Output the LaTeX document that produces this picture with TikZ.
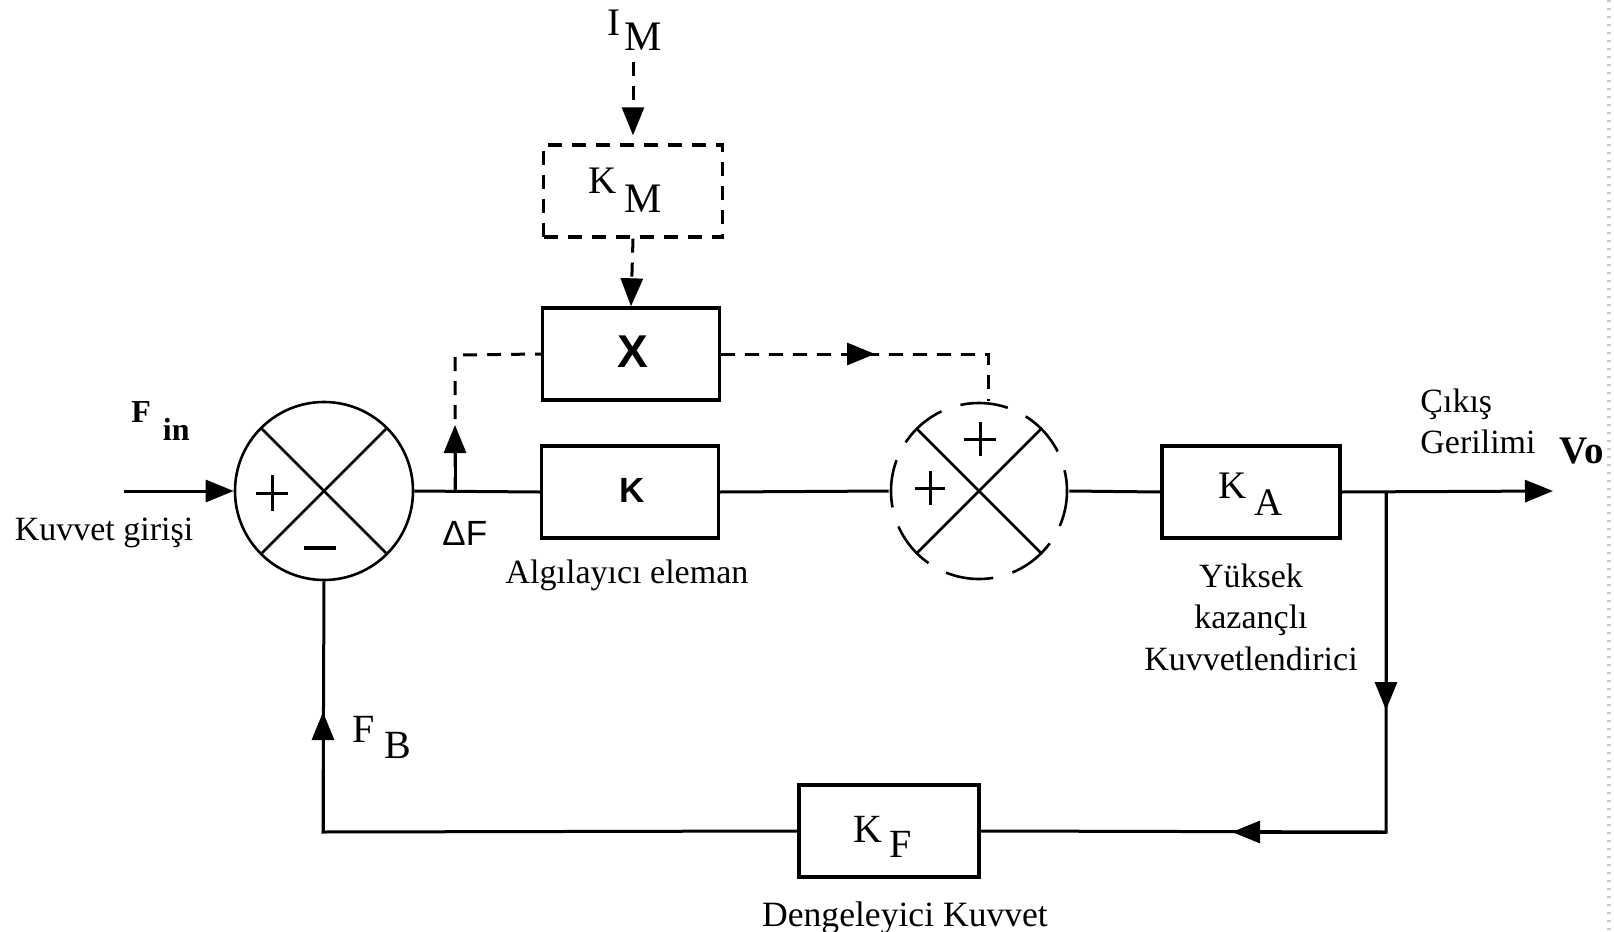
\documentclass[tikz,border=0pt]{standalone}
\usepackage{fontspec}
\setmainfont{Liberation Serif}
\setsansfont{Liberation Sans}
\usetikzlibrary{arrows.meta,calc}
\tikzset{
  blk/.style={draw,line width=1.7pt,minimum width=88.5pt,minimum height=46pt,inner sep=0pt},
  dblk/.style={blk,dash pattern=on 7pt off 5pt},
  sumj/.style={draw,circle,line width=1.3pt,minimum size=89pt,inner sep=0pt},
  wire/.style={line width=1.5pt},
  dwire/.style={line width=1.5pt,dash pattern=on 7pt off 5pt},
  tip/.style={-{Triangle[length=14pt,width=11pt]}},
  txt/.style={inner sep=0pt,font=\fontsize{17pt}{20pt}\selectfont},
  lbl/.style={inner sep=0pt,anchor=base west},
  pm/.style={line width=1.5pt},
}
\newcommand{\subl}[4]{#1\kern#3\raisebox{-#4}{#2}}
\begin{document}
\begin{tikzpicture}[x=0.5pt,y=-0.5pt]
\useasboundingbox (0,0) rectangle (1614,932);
% scrollbar artifact at right edge
\draw[gray!40,line width=2pt,dash pattern=on 1pt off 3pt] (1609,0) -- (1609,932);

% summing junctions
\node[sumj] (j1) at (324,491) {};
\draw[line width=1.3pt] ($(j1.center)+(-62,-62)$) -- ($(j1.center)+(62,62)$)
                        ($(j1.center)+(-62,62)$) -- ($(j1.center)+(62,-62)$);
\coordinate (p1) at (272,493);
\draw[pm] (p1) +(-16,0) -- +(16,0) (p1) +(0,-18) -- +(0,18);
\coordinate (m1) at (320,548);
\draw[line width=2pt] (m1) +(-16,0) -- +(16,0);

\node[sumj,draw=none] (j2) at (979,491) {};
\draw[line width=1.3pt,dash pattern=on 24pt off 10pt,dash phase=6pt] (j2.center) circle[radius=88];
\draw[line width=1.3pt] ($(j2.center)+(-62,-62)$) -- ($(j2.center)+(62,62)$)
                        ($(j2.center)+(-62,62)$) -- ($(j2.center)+(62,-62)$);
\coordinate (p2) at (980,439);
\draw[pm] (p2) +(-16,0) -- +(16,0) (p2) +(0,-17) -- +(0,17);
\coordinate (p3) at (930,488);
\draw[pm] (p3) +(-15,0) -- +(15,0) (p3) +(0,-17) -- +(0,17);

% blocks
\node[blk] (K) at (630,492) {};
\node[font=\sffamily\bfseries\fontsize{17.5pt}{20pt}\selectfont,inner sep=0pt] (Kt) at (632,490) {K};
\node[blk] (X) at (631,354) {};
\node[font=\sffamily\bfseries\fontsize{23pt}{24pt}\selectfont,inner sep=0pt] (Xt) at (633,352) {X};
\node[dblk,minimum width=89.5pt] (KM) at (633,191) {};
\node[lbl,font=\fontsize{19.5pt}{20pt}\selectfont] (KMt) at (588,193) {\subl{K}{\fontsize{21pt}{20pt}\selectfont M}{4pt}{9.5pt}};
\node[blk,minimum width=89pt] (KA) at (1251,492) {};
\node[lbl,font=\fontsize{19.5pt}{20pt}\selectfont] (KAt) at (1218,498) {\subl{K}{A}{4pt}{8.5pt}};
\node[blk,minimum width=90pt] (KF) at (889,831) {};
\node[lbl,font=\fontsize{20pt}{20pt}\selectfont] (KFt) at (853,842) {\subl{K}{F}{3.5pt}{7.5pt}};

% labels
\node[lbl,font=\fontsize{19.5pt}{20pt}\selectfont] (IM) at (607,35) {\subl{I}{\fontsize{21pt}{20pt}\selectfont M}{2pt}{7.5pt}};
\node[lbl,font=\bfseries\fontsize{16pt}{16pt}\selectfont] (Fin) at (131,422) {\subl{F}{in}{6pt}{9pt}};
\node[lbl,font=\fontsize{20pt}{20pt}\selectfont] (FB) at (352,742) {\subl{F}{B}{5pt}{8pt}};
\node[lbl,font=\bfseries\fontsize{19.5pt}{20pt}\selectfont] (Vo) at (1559,463) {Vo};
\node[lbl,font=\sffamily\fontsize{17.5pt}{20pt}\selectfont] (dF) at (442,545) {ΔF};
\node[txt,anchor=base] (kg) at (104,540) {Kuvvet girişi};
\node[txt,anchor=base] (ae) at (627,583) {Algılayıcı eleman};
\node[txt,anchor=base] (yk1) at (1251,587) {Yüksek};
\node[txt,anchor=base] (yk2) at (1251,628) {kazançlı};
\node[txt,anchor=base] (yk3) at (1251,670) {Kuvvetlendirici};
\node[txt,anchor=base west] (cg1) at (1420,412) {Çıkış};
\node[txt,anchor=base west] (cg2) at (1420,453) {Gerilimi};
\node[txt,anchor=base,font=\fontsize{17.8pt}{20pt}\selectfont] (dk) at (905,926) {Dengeleyici Kuvvet};

% coordinates
\coordinate (in0) at (124,491);
\coordinate (tap) at (455,491);
\coordinate (tapup) at (455,355);
\coordinate (tapar) at (455,425);
\coordinate (c2) at (988,354);
\coordinate (darr) at (875,354);
\coordinate (imtop) at (633,62);
\coordinate (br) at (1386,491);
\coordinate (out) at (1553,491);
\coordinate (brd) at (1386,832);
\coordinate (darrv) at (1386,710);
\coordinate (larr) at (1232,832);
\coordinate (fbl) at (323,832);
\coordinate (uarr) at (323,712);

% main path
\draw[wire,tip] (in0) -- (j1.west);
\draw[wire] (j1.east) -- (K.west);
\draw[wire] (K.east) -- (j2.west);
\draw[wire] (j2.east) -- (KA.west);
\draw[wire,tip] (KA.east) -- (out);
\draw[wire] (br) -- (brd) -- (KF.east);
\draw[wire,tip] (br) -- (darrv);
\draw[wire,tip] (brd) -- (larr);
\draw[wire] (KF.west) -- (fbl) -- (j1.south);
\draw[wire,tip] (fbl) -- (uarr);

% dashed paths
\draw[dwire] (tap) -- (tapup) -- (X.west);
\draw[wire,tip] (tap) -- (tapar);
\draw[dwire] (X.east) -- (c2) -- (j2.north -| c2);
\draw[dwire,tip] (X.east) -- (darr);
\draw[dwire,tip,shorten >=4pt] (imtop) -- (KM.north);
\draw[dwire,tip] (KM.south) -- (X.north);
\end{tikzpicture}
\end{document}
